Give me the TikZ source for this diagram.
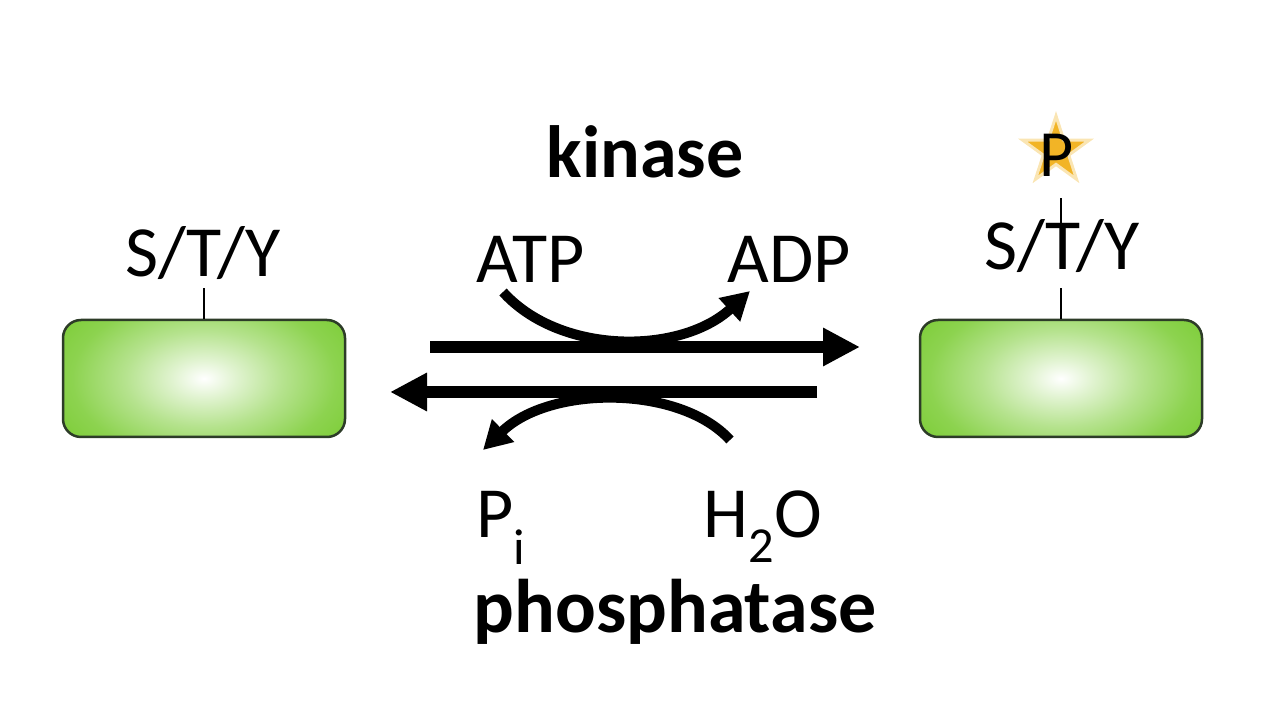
\documentclass[tikz,border=0pt]{standalone}
\usepackage{fontspec}
\setmainfont{Carlito}
\usetikzlibrary{arrows.meta,shapes.geometric}
\definecolor{boxgreen}{RGB}{128,206,60}
\definecolor{boxedge}{RGB}{45,60,40}
\definecolor{stargold}{RGB}{242,180,38}
\pgfdeclareradialshading{glowshade}{\pgfpoint{0bp}{0bp}}{color(0bp)=(white); color(5bp)=(white!75!boxgreen); color(12bp)=(white!42!boxgreen); color(20bp)=(white!10!boxgreen); color(25bp)=(boxgreen); color(50bp)=(boxgreen)}
\begin{document}
\begin{tikzpicture}[x=1pt,y=1pt,
  lbl/.style={font=\fontsize{72}{86}\selectfont, inner sep=0pt, anchor=base},
  enz/.style={font=\fontsize{74}{88}\selectfont\bfseries, inner sep=0pt, anchor=base},
  protein/.style={draw=boxedge, line width=2.5pt, rounded corners=18pt, fill=boxgreen, minimum width=282pt, minimum height=117pt, inner sep=0pt,
    path picture={\shade[shading=glowshade] (path picture bounding box.center) ellipse (165pt and 100pt);}},
  stem/.style={line width=2pt},
  mainarrow/.style={line width=12pt, -{Triangle[length=37pt,width=36pt]}},
  sidearrow/.style={line width=10pt, -{Triangle[length=28pt,width=30pt]}},
]
\useasboundingbox (0,0) rectangle (1280,720);
% proteins
\node[protein] (lbox) at (204,341.5) {};
\node[protein] (rbox) at (1061,341.5) {};
% residue labels
\node[lbl] (lsty) at (203,443) {S/T/Y};
\node[lbl] (rsty) at (1062,450) {S/T/Y};
\coordinate (ltop) at (204,432);
\coordinate (rlow) at (1061,432);
\coordinate (rT) at (1061,493);
\coordinate (rup) at (1061,522);
\draw[stem] (lbox.north) -- (ltop);
\draw[stem] (rbox.north) -- (rlow);
\draw[stem] (rT) -- (rup);
% phosphate star
\node[star, star points=5, star point ratio=2.618, minimum size=70pt, inner sep=0pt, fill=stargold, draw=stargold!35, line width=3pt] (star) at (1056,569) {};
\node[lbl, font=\fontsize{66}{80}\selectfont] (pp) at (1057,543) {P};
% enzyme labels
\node[enz] (kin) at (645,542) {kinase};
\node[enz, font=\fontsize{76}{90}\selectfont\bfseries] (pho) at (675,87) {phosphatase};
% reactants
\node[lbl] (atp) at (531,437) {ATP};
\node[lbl] (adp) at (789,437) {ADP};
\node[lbl, anchor=base west] (pi) at (476,182) {P\textsubscript{i}};
\node[lbl, anchor=base west] (h2o) at (703,182) {H\textsubscript{2}O};
% main arrows
\coordinate (f1) at (430,373);
\coordinate (f2) at (860,373);
\coordinate (b1) at (817,328);
\coordinate (b2) at (390,328);
\draw[mainarrow] (f1) -- (f2);
\draw[mainarrow] (b1) -- (b2);
% side arrows
\coordinate (s1) at (503,428);
\coordinate (s2) at (750,429);
\coordinate (t1) at (730,280);
\coordinate (t2) at (483,270);
\draw[sidearrow] (s1) .. controls (560,365) and (680,365) .. (s2);
\draw[sidearrow] (t1) .. controls (680,335) and (550,335) .. (t2);
\end{tikzpicture}
\end{document}
